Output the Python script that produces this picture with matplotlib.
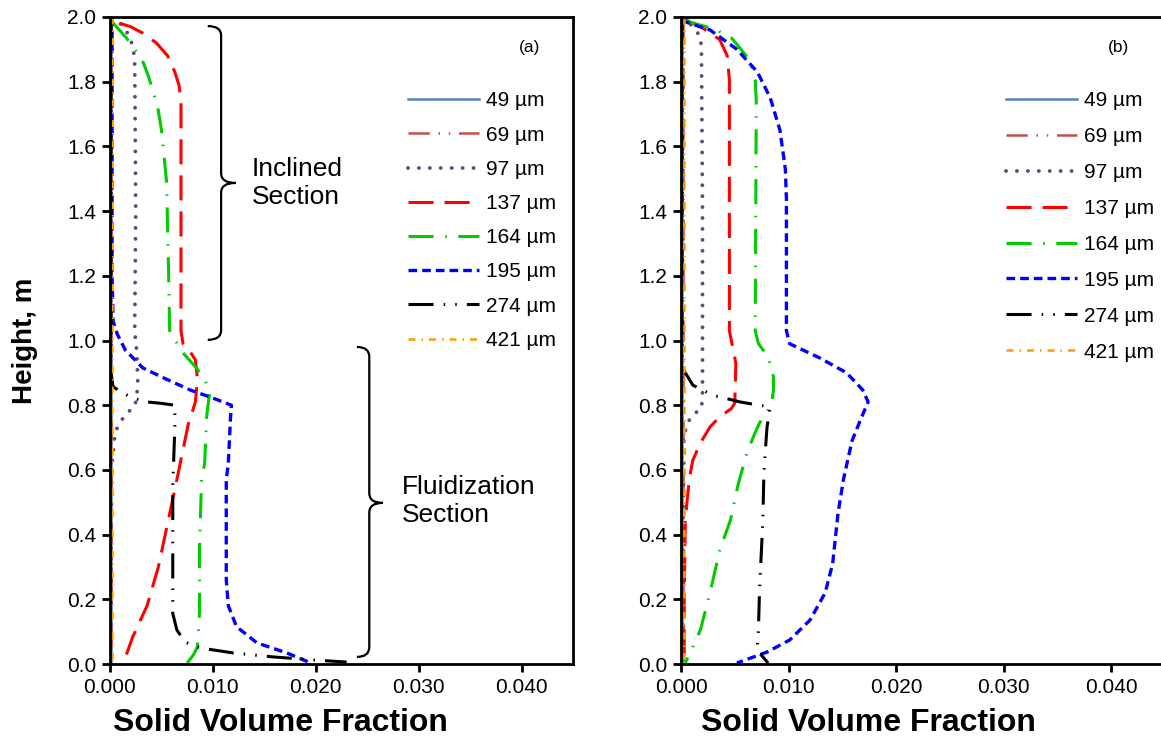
import matplotlib
matplotlib.use('Agg')
import matplotlib.pyplot as plt
from matplotlib.path import Path
from matplotlib.patches import PathPatch
from matplotlib.ticker import FormatStrFormatter

plt.rcParams['font.family'] = ['Liberation Sans', 'DejaVu Sans']

# ---------------- data ----------------
labels = ['49 µm', '69 µm', '97 µm', '137 µm', '164 µm', '195 µm', '274 µm', '421 µm']

x_ticks = [0.0, 0.01, 0.02, 0.03, 0.04]
y_ticks = [0.0, 0.2, 0.4, 0.6, 0.8, 1.0, 1.2, 1.4, 1.6, 1.8, 2.0]

# ---- panel (a) ----
a_x_49 = [0.00008, 0.00008, 0.00008]
a_y_49 = [2.0, 1.0, 0.0]
a_x_69 = [0.00012, 0.00012, 0.00012]
a_y_69 = [2.0, 1.0, 0.0]
a_x_97 = [0.0002, 0.0008, 0.0013, 0.0019, 0.0022, 0.0024, 0.0025, 0.0024, 0.0026, 0.0027, 0.0026,
          0.0024, 0.0016, 0.0010, 0.0005, 0.0002, 0.0001, 0.0001]
a_y_97 = [2.0, 1.985, 1.97, 1.94, 1.91, 1.87, 1.4, 1.03, 0.965, 0.87, 0.826,
          0.795, 0.775, 0.748, 0.717, 0.62, 0.4, 0.0]
a_x_137 = [0.0010, 0.0020, 0.0032, 0.0045, 0.0056, 0.0063, 0.0067, 0.0069, 0.0069, 0.0069, 0.0071,
           0.0078, 0.0083, 0.0085, 0.0083, 0.0076, 0.0065, 0.0056, 0.0047, 0.0036, 0.0022, 0.0013]
a_y_137 = [1.98, 1.97, 1.95, 1.92, 1.88, 1.83, 1.79, 1.74, 1.4, 1.03, 0.99,
           0.965, 0.94, 0.88, 0.81, 0.74, 0.57, 0.435, 0.30, 0.18, 0.083, 0.003]
a_x_164 = [0.0002, 0.0016, 0.0031, 0.0037, 0.0042, 0.0047, 0.0050, 0.0055, 0.0057, 0.0058, 0.0070,
           0.0084, 0.0092, 0.0097, 0.0095, 0.0094, 0.0092, 0.0089, 0.0087, 0.0087, 0.0085, 0.0081,
           0.0075]
a_y_164 = [1.985, 1.935, 1.87, 1.82, 1.77, 1.71, 1.65, 1.49, 1.2, 1.03, 0.965,
           0.915, 0.88, 0.84, 0.795, 0.765, 0.62, 0.57, 0.36, 0.16, 0.053, 0.028,
           0.003]
a_x_195 = [0.0002, 0.0002, 0.0003, 0.0007, 0.0015, 0.0032, 0.0055, 0.0078, 0.0100, 0.0118, 0.0117,
           0.0115, 0.0113, 0.0113, 0.0115, 0.0123, 0.0143, 0.0172, 0.0193]
a_y_195 = [2.0, 1.2, 1.06, 1.02, 0.97, 0.915, 0.88, 0.847, 0.822, 0.80, 0.754,
           0.62, 0.57, 0.26, 0.18, 0.115, 0.065, 0.034, 0.006]
a_x_274 = [0.0001, 0.0001, 0.0003, 0.0013, 0.0022, 0.0036, 0.0049, 0.0063, 0.0063, 0.0061, 0.0061,
           0.0065, 0.0073, 0.0087, 0.0120, 0.0158, 0.0200, 0.0230]
a_y_274 = [2.0, 0.9, 0.857, 0.837, 0.822, 0.81, 0.806, 0.80, 0.73, 0.55, 0.156,
           0.105, 0.068, 0.05, 0.034, 0.022, 0.012, 0.006]
a_x_421 = [0.0002, 0.0002, 0.0002]
a_y_421 = [2.0, 1.0, 0.0]

# ---- panel (b) ----
b_x_49 = [0.00008, 0.00008, 0.00008]
b_y_49 = [2.0, 1.0, 0.0]
b_x_69 = [0.00015, 0.00015, 0.00015]
b_y_69 = [2.0, 1.0, 0.0]
b_x_97 = [0.0002, 0.0011, 0.0018, 0.0019, 0.0020, 0.0020, 0.0019, 0.0011, 0.0006, 0.0003, 0.0002, 0.0002]
b_y_97 = [2.0, 1.97, 1.94, 1.90, 1.4, 0.826, 0.79, 0.77, 0.745, 0.708, 0.5, 0.0]
b_x_137 = [0.0003, 0.0008, 0.0020, 0.0036, 0.0043, 0.0045, 0.0045, 0.0045, 0.0048, 0.0051, 0.0050,
           0.0047, 0.0036, 0.0027, 0.0018, 0.0011, 0.0008, 0.0006, 0.0004, 0.0003, 0.0003]
b_y_137 = [1.995, 1.985, 1.966, 1.93, 1.88, 1.805, 1.4, 1.03, 0.98, 0.93, 0.807,
           0.79, 0.764, 0.733, 0.683, 0.63, 0.578, 0.516, 0.445, 0.2, 0.0]
b_x_164 = [0.0003, 0.0018, 0.0033, 0.0047, 0.0064, 0.0069, 0.0070, 0.0069, 0.0072, 0.0081, 0.0086,
           0.0086, 0.0084, 0.0073, 0.0067, 0.0061, 0.0053, 0.0046, 0.0036, 0.0027, 0.0018, 0.0011, 0.0004]
b_y_164 = [1.99, 1.975, 1.96, 1.935, 1.867, 1.805, 1.74, 1.03, 0.99, 0.95, 0.887,
           0.847, 0.80, 0.745, 0.70, 0.65, 0.553, 0.445, 0.352, 0.22, 0.105, 0.053, 0.003]
b_x_195 = [0.0002, 0.0004, 0.0027, 0.0052, 0.0071, 0.0083, 0.0092, 0.0097, 0.0098, 0.0098, 0.0101,
           0.0129, 0.0154, 0.0169, 0.0174, 0.0168, 0.0159, 0.0151, 0.0146, 0.0141, 0.0134, 0.0120,
           0.0101, 0.0080, 0.0052]
b_y_195 = [1.995, 1.985, 1.96, 1.90, 1.83, 1.75, 1.65, 1.53, 1.44, 1.03, 0.99,
           0.946, 0.90, 0.847, 0.81, 0.764, 0.69, 0.57, 0.466, 0.31, 0.22, 0.136,
           0.074, 0.037, 0.003]
b_x_274 = [0.0001, 0.0001, 0.0004, 0.0011, 0.0020, 0.0030, 0.0043, 0.0055, 0.0067, 0.0083, 0.0080,
           0.0078, 0.0077, 0.0076, 0.0073, 0.0072, 0.0071, 0.0073, 0.0081]
b_y_274 = [2.0, 0.92, 0.90, 0.862, 0.847, 0.83, 0.82, 0.81, 0.803, 0.795, 0.733,
           0.64, 0.578, 0.436, 0.229, 0.105, 0.065, 0.034, 0.003]
b_x_421 = [0.0003, 0.0003, 0.0003]
b_y_421 = [2.0, 1.0, 0.0]

# ---------------- styles ----------------
colors = ['#4F81BD', '#C0504D', '#604A7B', '#FF0000', '#00CC00', '#0000FF', '#000000', '#FF9900']
widths = [1.8, 1.8, 2.8, 2.2, 2.2, 2.4, 2.2, 1.8]
dashes = [None,
          (8.5, 3.5, 0.6, 3.5, 0.6, 3.5),
          (0.01, 2.8),
          (8.2, 3.6),
          (8.2, 3.8, 0.5, 3.8),
          (2.6, 1.5),
          (8.2, 3.3, 0.5, 3.3, 0.5, 3.3),
          (2.8, 2.4, 0.6, 2.4)]

W, H = 1161, 742
fig = plt.figure(figsize=(W / 100, H / 100), dpi=100)
ax_a = fig.add_axes([110 / W, (H - 664) / H, 463 / W, 647 / H])
ax_b = fig.add_axes([681 / W, (H - 664) / H, 484 / W, 647 / H])

series_a = [(a_x_49, a_y_49), (a_x_69, a_y_69), (a_x_97, a_y_97), (a_x_137, a_y_137),
            (a_x_164, a_y_164), (a_x_195, a_y_195), (a_x_274, a_y_274), (a_x_421, a_y_421)]
series_b = [(b_x_49, b_y_49), (b_x_69, b_y_69), (b_x_97, b_y_97), (b_x_137, b_y_137),
            (b_x_164, b_y_164), (b_x_195, b_y_195), (b_x_274, b_y_274), (b_x_421, b_y_421)]


def draw(ax, series, label_x):
    for i, (xs, ys) in enumerate(series):
        kw = dict(color=colors[i], lw=widths[i], label=labels[i])
        if dashes[i] is None:
            ln, = ax.plot(xs, ys, '-', **kw)
        else:
            ln, = ax.plot(xs, ys, **kw)
            ln.set_dashes(dashes[i])
            if i == 2:
                ln.set_dash_capstyle('round')
            else:
                ln.set_dash_capstyle('butt')
    ax.set_xlim(0, 0.045)
    ax.set_ylim(0, 2.0)
    ax.set_xticks(x_ticks)
    ax.set_yticks(y_ticks)
    ax.xaxis.set_major_formatter(FormatStrFormatter('%.3f'))
    ax.yaxis.set_major_formatter(FormatStrFormatter('%.1f'))
    ax.tick_params(axis='both', direction='out', length=6, width=2, labelsize=15, pad=4)
    for s in ax.spines.values():
        s.set_linewidth(2.0)
    ax.set_xlabel('Solid Volume Fraction', fontsize=23, fontweight='bold')
    ax.xaxis.set_label_coords(label_x, -0.068)


draw(ax_a, series_a, (280 - 110) / 463)
draw(ax_b, series_b, (868 - 681) / 484)
ax_a.set_ylabel('Height, m', fontsize=20, fontweight='bold')
ax_a.yaxis.set_label_coords(-0.155, 0.5)
ax_b.spines['right'].set_visible(False)

# legends
leg_kw = dict(loc='upper left', frameon=False, fontsize=15, handlelength=3.4,
              handletextpad=0.34, borderpad=0, borderaxespad=0)
ax_a.legend(bbox_to_anchor=(0.643, 0.885), labelspacing=0.73, **leg_kw)
ax_b.legend(bbox_to_anchor=(0.671, 0.885), labelspacing=0.81, **leg_kw)

# panel tags
ax_a.text(0.93, 0.965, '(a)', transform=ax_a.transAxes, fontsize=12.5, ha='right', va='top')
ax_b.text(0.925, 0.965, '(b)', transform=ax_b.transAxes, fontsize=12.5, ha='right', va='top')


def brace(ax, xv, y_top, y_bot, y_tip, x_hook, x_tip, r):
    verts = [(x_hook, y_top), (xv, y_top), (xv, y_top - r),
             (xv, y_tip + r), (xv, y_tip), (x_tip, y_tip),
             (xv, y_tip), (xv, y_tip - r),
             (xv, y_bot + r), (xv, y_bot), (x_hook, y_bot)]
    codes = [Path.MOVETO, Path.CURVE3, Path.CURVE3,
             Path.LINETO, Path.CURVE3, Path.CURVE3,
             Path.CURVE3, Path.CURVE3,
             Path.LINETO, Path.CURVE3, Path.CURVE3]
    ax.add_patch(PathPatch(Path(verts, codes), fc='none', ec='black', lw=1.6, clip_on=False))


brace(ax_a, 0.0108, 1.972, 1.002, 1.487, 0.0095, 0.0122, 0.03)
brace(ax_a, 0.0252, 0.98, 0.022, 0.498, 0.0240, 0.0265, 0.03)

ax_a.text(0.0138, 1.487, 'Inclined\nSection', fontsize=19, ha='left', va='center', linespacing=1.2)
ax_a.text(0.02835, 0.503, 'Fluidization\nSection', fontsize=19, ha='left', va='center', linespacing=1.2)

fig.savefig('out.png', dpi=100)
